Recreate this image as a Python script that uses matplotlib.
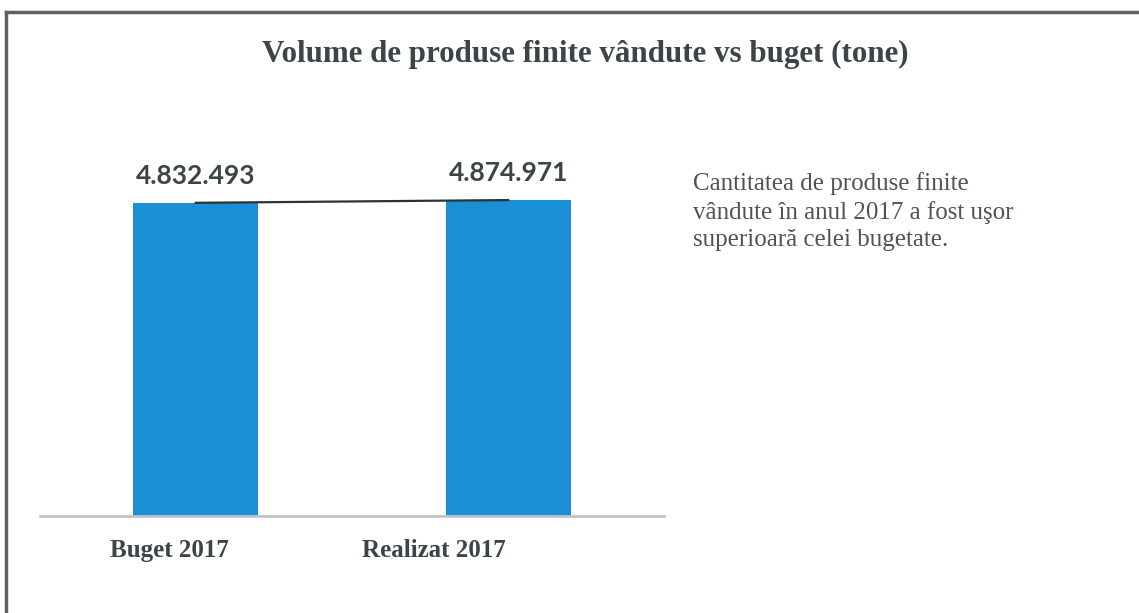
import matplotlib.pyplot as plt
from matplotlib.lines import Line2D

# chart data
categories = ['Buget 2017', 'Realizat 2017']
volumes = [4832493, 4874971]
value_labels = ['4.832.493', '4.874.971']
title = 'Volume de produse finite vândute vs buget (tone)'
note = ('Cantitatea de produse finite\n'
        'vândute în anul 2017 a fost uşor\n'
        'superioară celei bugetate.')

W, H = 1139, 613
fig = plt.figure(figsize=(W / 100, H / 100), dpi=100)
fig.patch.set_facecolor('white')

# frame around the chart (top and left edges visible)
fig.add_artist(Line2D([6 / W, 6 / W], [0, 1 - 12 / H], color='#5a6266', lw=2.5))
fig.add_artist(Line2D([6 / W, 1], [1 - 12 / H, 1 - 12 / H], color='#5a6266', lw=2.5))

serif = 'Liberation Serif'
dark = '#3b4547'

fig.text(585 / W, 1 - 54 / H, title, ha='center', va='center',
         fontsize=22.3, fontweight='bold', family=serif, color=dark)

ax = fig.add_axes([39.5 / W, 97 / H, 625 / W, 337 / H])
x = list(range(len(categories)))
ax.bar(x, volumes, width=0.4, color='#1b8fd5', zorder=2)
ax.plot(x, volumes, color='#2b3335', lw=1.6, zorder=3)
ax.set_xlim(-0.5, 1.5)
ax.set_ylim(0, 5.2e6)

for spine in ['top', 'right', 'left']:
    ax.spines[spine].set_visible(False)
ax.spines['bottom'].set_color('#c4c4c4')
ax.spines['bottom'].set_linewidth(2)
ax.set_yticks([])
ax.set_xticks([])

# value labels above bars
for xi, v, lab in zip(x, volumes, value_labels):
    ax.annotate(lab, xy=(xi, v), xytext=(0, 11), textcoords='offset points',
                ha='center', va='bottom', fontsize=19, fontweight='bold',
                family='Lato', color=dark)

# category labels (offset left as in the source)
shifts = [-26, -74]
for xi, lab, s in zip(x, categories, shifts):
    ax.annotate(lab, xy=(xi, 0), xytext=(s * 0.72, -25), textcoords='offset points',
                ha='center', va='center', fontsize=18, fontweight='bold',
                family=serif, color=dark)

fig.text(693 / W, 1 - 172 / H, note, ha='left', va='top', fontsize=18,
         family=serif, color='#4d5356', linespacing=1.32)

fig.savefig('out.png', dpi=100)
